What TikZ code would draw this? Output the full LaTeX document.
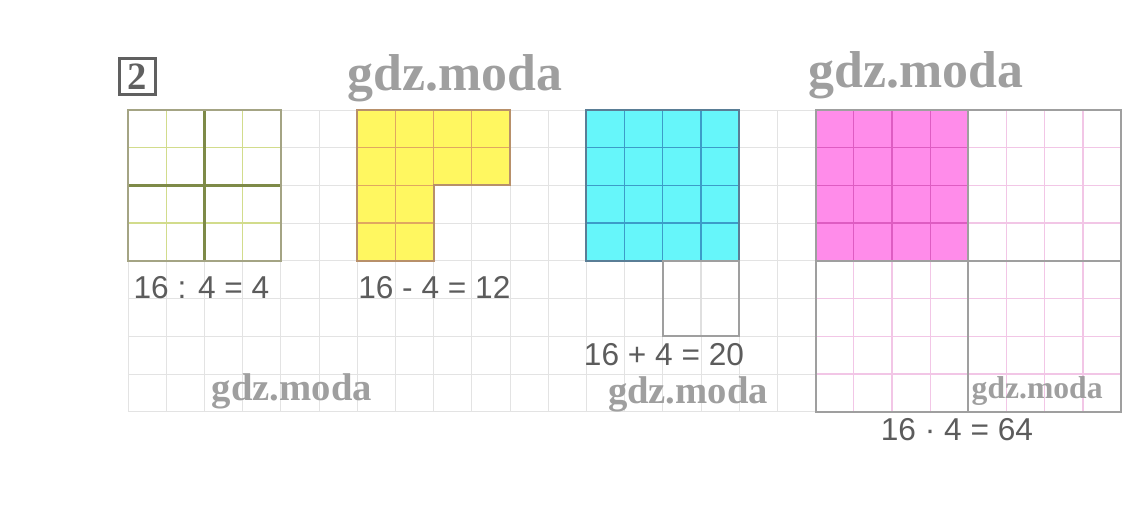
\documentclass[tikz,border=0pt]{standalone}
\usepackage{fontspec}
\setmainfont{Liberation Sans}
\newfontfamily\wmfont{Liberation Serif}
\usetikzlibrary{positioning}

\definecolor{limeline}{HTML}{D2DC8C}
\definecolor{limecross}{HTML}{7E8A48}
\definecolor{olivebox}{HTML}{A4A484}
\definecolor{yellowfill}{HTML}{FFF760}
\definecolor{yellowline}{HTML}{E0A860}
\definecolor{yellowbox}{HTML}{B8906A}
\definecolor{cyanfill}{HTML}{66F6FA}
\definecolor{cyanline}{HTML}{3C9CC8}
\definecolor{cyanbox}{HTML}{5A7E96}
\definecolor{pinkfill}{HTML}{FF8CEA}
\definecolor{pinkline}{HTML}{DE5CC2}
\definecolor{pinkfaint}{HTML}{F2C6E6}
\definecolor{inkgray}{HTML}{5C5C5C}

\begin{document}
\begin{tikzpicture}[
        x=0.764cm, y=0.754cm,
        sheetline/.style={draw=gray!22, line width=0.4pt},
        cellline/.style={line width=0.7pt},
        boxline/.style={draw=gray!75, line width=1.1pt},
        eqlabel/.style={inner sep=0pt, text=inkgray, font=\fontsize{18}{20}\selectfont},
        wmark/.style={inner sep=0pt, text=gray!75, font=\wmfont\bfseries\fontsize{29.5}{31}\selectfont}
    ]
        \fill[white] (-3.351,2.918) rectangle (26.702,-10.451);
        \useasboundingbox (-3.351,2.918) rectangle (26.702,-10.451);

        % notebook squares
        \draw[sheetline, step=1] (0,-8) grid (26,0);

        % 16 : 4
        \draw[cellline, draw=limeline, step=1] (0,-4) grid (4,0);
        \draw[line width=1.4pt, draw=limecross] (2,0) -- (2,-4) (0,-2) -- (4,-2);
        \draw[boxline, draw=olivebox] (0,0) rectangle (4,-4);

        % 16 - 4
        \fill[yellowfill] (6,0) -- (10,0) -- (10,-2) -- (8,-2) -- (8,-4) -- (6,-4) -- cycle;
        \draw[cellline, draw=yellowline, step=1] (6,-2) grid (10,0);
        \draw[cellline, draw=yellowline, step=1] (6,-4) grid (8,-2);
        \draw[boxline, draw=yellowbox] (6,0) -- (10,0) -- (10,-2) -- (8,-2) -- (8,-4) -- (6,-4) -- cycle;

        % 16 + 4
        \fill[cyanfill] (12,0) rectangle (16,-4);
        \draw[cellline, draw=cyanline, step=1] (12,-4) grid (16,0);
        \draw[boxline, draw=cyanbox] (12,0) rectangle (16,-4);
        \draw[cellline, draw=gray!25, step=1] (14,-6) grid (16,-4);
        \draw[boxline] (14,-4) rectangle (16,-6);

        % 16 * 4
        \draw[cellline, draw=pinkfaint, step=1] (18,-8) grid (26,0);
        \fill[pinkfill] (18,0) rectangle (22,-4);
        \draw[cellline, draw=pinkline, step=1] (18,-4) grid (22,0);
        \draw[boxline] (18,0) rectangle (26,-8);
        \draw[boxline] (22,0) -- (22,-8) (18,-4) -- (26,-4);

        \node[draw=gray!75!black, line width=1.6pt, minimum size=0.72cm, inner sep=0pt,
              text=gray!75!black, font=\wmfont\bfseries\fontsize{22}{24}\selectfont] (task) at (0.249,0.889) {2};

        \node[eqlabel] (divide) at (1.924,-4.72) {16 : 4 = 4};
        \node[eqlabel] (minus) at (8.02,-4.72) {16 - 4 = 12};
        \node[eqlabel] (plus) at (14.03,-6.5) {16 + 4 = 20};
        \node[eqlabel] (times) at (21.70,-8.49) {16 · 4 = 64};

        \node[wmark] (wmA) at (8.56,0.85) {gdz.moda};
        \node[wmark] (wmB) at (20.62,0.93) {gdz.moda};
        \node[wmark, font=\wmfont\bfseries\fontsize{22}{24}\selectfont] (wmC) at (4.29,-7.45) {gdz.moda};
        \node[wmark, font=\wmfont\bfseries\fontsize{22}{24}\selectfont] (wmD) at (14.66,-7.55) {gdz.moda};
        \node[wmark, font=\wmfont\bfseries\fontsize{18}{20}\selectfont] (wmE) at (23.80,-7.45) {gdz.moda};
    \end{tikzpicture}
\end{document}
